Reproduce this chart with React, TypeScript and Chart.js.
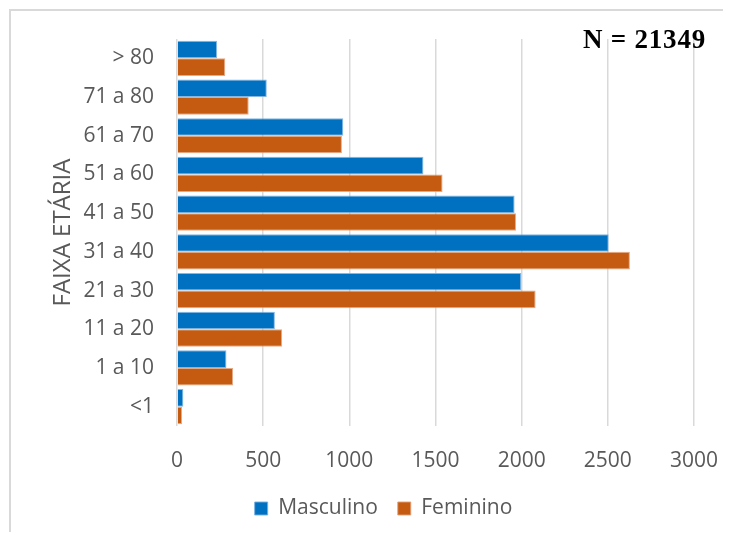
import React, { useEffect, useRef } from "react";
import { Chart, registerables } from "chart.js";

Chart.register(...registerables);

const categories = ["> 80", "71 a 80", "61 a 70", "51 a 60", "41 a 50", "31 a 40", "21 a 30", "11 a 20", "1 a 10", "<1"];
const masculino = [233, 521, 965, 1430, 1959, 2505, 1998, 568, 287, 37];
const feminino = [280, 416, 957, 1541, 1967, 2628, 2081, 610, 325, 29];
const seriesNames = ["Masculino", "Feminino"];
const axisTitle = "FAIXA ETÁRIA";
const annotation = "N = 21349";

const FONT = "'Open Sans', 'Noto Sans', sans-serif";
const TXT = "#595959";

const legendShift = {
  id: "legendShift",
  afterLayout(chart: any) {
    const lg = chart.legend;
    if (lg) {
      lg.left += 31;
      lg.right += 31;
    }
  },
};

export default function App() {
  const ref = useRef<HTMLCanvasElement | null>(null);
  useEffect(() => {
    if (!ref.current) return;
    const chart = new Chart(ref.current, {
      type: "bar",
      data: {
        labels: categories,
        datasets: [
          {
            label: seriesNames[0],
            data: masculino,
            backgroundColor: "#0070C0",
            borderColor: "rgba(120,175,225,0.9)",
            borderWidth: 1,
            categoryPercentage: 0.91,
            barPercentage: 1,
          },
          {
            label: seriesNames[1],
            data: feminino,
            backgroundColor: "#C55A11",
            borderColor: "rgba(225,160,120,0.9)",
            borderWidth: 1,
            categoryPercentage: 0.91,
            barPercentage: 1,
          },
        ],
      },
      plugins: [legendShift],
      options: {
        indexAxis: "y",
        responsive: false,
        animation: false,
        devicePixelRatio: 1,
        layout: { padding: { top: 28, right: 67, left: 0, bottom: 3 } },
        plugins: {
          tooltip: { enabled: false },
          legend: {
            position: "bottom",
            labels: {
              boxWidth: 13,
              boxHeight: 13,
              padding: 20,
              color: TXT,
              font: { family: FONT, size: 21 },
            },
          },
        },
        scales: {
          x: {
            min: 0,
            max: 3000,
            ticks: {
              stepSize: 500,
              color: TXT,
              font: { family: FONT, size: 21 },
              padding: 22,
              callback: (v: any) => String(v),
            },
            grid: { color: "#d9d9d9", lineWidth: 1.5, drawTicks: false },
            border: { display: false },
            afterFit: (s: any) => { s.height = 52; },
          },
          y: {
            ticks: { color: TXT, font: { family: FONT, size: 21 }, padding: 23 },
            grid: { display: false, drawTicks: false },
            border: { display: false },
            title: {
              display: true,
              text: axisTitle,
              color: TXT,
              font: { family: FONT, size: 24 },
              padding: { top: 38, bottom: 0 },
            },
            afterFit: (s: any) => {
              s.width = 166;
              s.paddingTop = 0;
              s.paddingBottom = 0;
            },
          },
        },
      },
    });
    return () => chart.destroy();
  }, []);

  return (
    <div style={{ position: "relative", width: 715, height: 524, overflow: "hidden" }}>
      <div
        style={{
          position: "absolute",
          left: 1,
          top: 1,
          width: 800,
          height: 600,
          borderLeft: "2px solid #d9d9d9",
          borderTop: "2px solid #d9d9d9",
        }}
      />
      <canvas ref={ref} width={750} height={521} style={{ position: "absolute", left: 3, top: 3 }} />
      <div
        style={{
          position: "absolute",
          right: 17,
          top: 17,
          fontFamily: "'Liberation Serif', 'DejaVu Serif', serif",
          fontWeight: "bold",
          fontSize: 27,
          letterSpacing: "0.8px",
          lineHeight: "28px",
          color: "#000",
          whiteSpace: "nowrap",
        }}
      >
        {annotation}
      </div>
    </div>
  );
}
